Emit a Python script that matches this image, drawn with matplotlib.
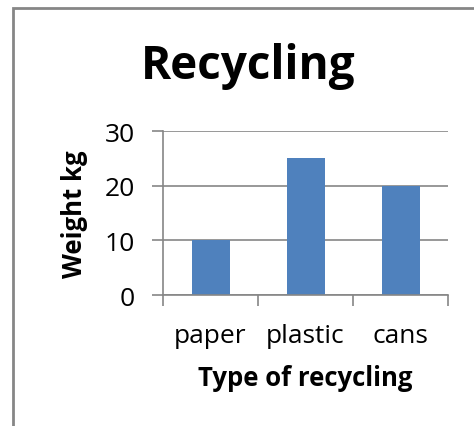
from matplotlib import pyplot as plt
from matplotlib.patches import Rectangle

categories = ["paper", "plastic", "cans"]
weights = [10, 25, 20]
y_ticks = [0, 10, 20, 30]

plt.rcParams["font.family"] = ["Open Sans", "DejaVu Sans"]

fig = plt.figure(figsize=(4.74, 4.27), dpi=100)
W, H = 474, 427

# outer chart border (left and top only visible)
fig.add_artist(Rectangle((13 / W, -0.1), 1.2, (427 - 9) / H + 0.1,
                         transform=fig.transFigure, fill=False,
                         edgecolor="#868686", linewidth=2))

ax = fig.add_axes([163 / W, 1 - 296 / H, (448 - 163) / W, (296 - 132) / H])

x = range(len(categories))
ax.bar(x, weights, width=0.4, color="#4F81BD")

ax.set_xlim(-0.5, 2.5)
ax.set_ylim(0, 30)
ax.set_yticks(y_ticks)
ax.set_xticks([-0.5, 0.5, 1.5, 2.5], minor=False)
ax.set_xticklabels([])
ax.set_xticks(list(x), minor=True)
ax.set_xticklabels(categories, minor=True, fontsize=19)
ax.tick_params(axis="x", which="minor", length=0, pad=20)
ax.tick_params(axis="x", which="major", length=8, color="#868686", width=1.2)
ax.tick_params(axis="y", length=8, color="#868686", width=1.2, labelsize=19, pad=12)

ax.grid(axis="y", color="#868686", linewidth=1.2)
ax.set_axisbelow(True)
for s in ["top", "right"]:
    ax.spines[s].set_visible(False)
ax.spines["left"].set_color("#868686")
ax.spines["bottom"].set_color("#868686")
ax.spines["left"].set_linewidth(1.2)
ax.spines["bottom"].set_linewidth(1.2)

ax.set_xlabel("Type of recycling", fontsize=18.5, fontweight="bold", labelpad=12)
ax.set_ylabel("Weight kg", fontsize=18.5, fontweight="bold", labelpad=12)

fig.text(248 / W, 1 - 67 / H, "Recycling", fontsize=33, fontweight="bold",
         ha="center", va="center")

plt.savefig("out.png", dpi=100)
